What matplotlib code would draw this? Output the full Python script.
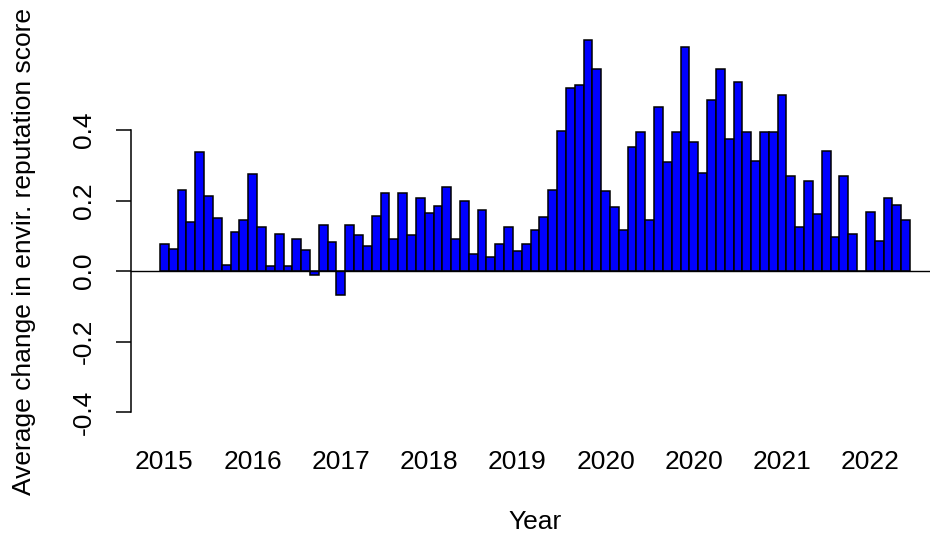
import matplotlib
matplotlib.use("Agg")
import matplotlib.pyplot as plt
import numpy as np

# average change per period, one bar each
cambios = [
    0.076, 0.062, 0.230, 0.140, 0.337, 0.212, 0.149, 0.018, 0.112, 0.144,
    0.274, 0.126, 0.014, 0.105, 0.014, 0.091, 0.059, -0.011, 0.130, 0.082,
    -0.068, 0.130, 0.101, 0.072, 0.155, 0.222, 0.092, 0.222, 0.101, 0.208,
    0.164, 0.184, 0.237, 0.092, 0.198, 0.048, 0.174, 0.039, 0.077, 0.126,
    0.058, 0.077, 0.115, 0.154, 0.230, 0.398, 0.519, 0.528, 0.654, 0.572,
    0.226, 0.183, 0.115, 0.352, 0.394, 0.144, 0.466, 0.308, 0.394, 0.635,
    0.366, 0.279, 0.485, 0.572, 0.374, 0.537, 0.394, 0.311, 0.394, 0.394,
    0.500, 0.270, 0.125, 0.255, 0.163, 0.341, 0.096, 0.270, 0.105, 0.0,
    0.168, 0.086, 0.207, 0.187, 0.144,
]
# one label every 10 bars
etiquetas = ["2015", "2016", "2017", "2018", "2019", "2020", "2020", "2021", "2022"]
ticks_y = [-0.4, -0.2, 0.0, 0.2, 0.4]

plt.rcParams['font.family'] = ['Liberation Sans', 'DejaVu Sans']

fig = plt.figure(figsize=(9.3, 5.39), dpi=100)
W, H = 930.0, 539.0
# plot region in pixels: left 131, right 940, top 17, bottom 423
ax = fig.add_axes([131 / W, (H - 423.3) / H, (940 - 131) / W, (423.3 - 17.2) / H])

x = np.arange(len(cambios))
ax.bar(x, cambios, width=1.0, align='edge', color='#0000ff',
       edgecolor='black', linewidth=1.1, clip_on=False)
ax.axhline(0, color='black', linewidth=1.0)

ax.set_xlim(-(160 - 131) / 8.8235, (940 - 160) / 8.8235)
ax.set_ylim(-0.432, 0.72)

for s in ['top', 'right', 'bottom']:
    ax.spines[s].set_visible(False)
ax.spines['left'].set_bounds(-0.4, 0.4)
ax.spines['left'].set_linewidth(1.1)

ax.set_yticks(ticks_y)
ax.set_yticklabels(["-0.4", "-0.2", "0.0", "0.2", "0.4"], rotation=90, va='center')
ax.tick_params(axis='y', length=11, width=1.1, pad=14, labelsize=19)

ax.set_xticks(np.arange(len(etiquetas)) * 10 + 0.5)
ax.set_xticklabels(etiquetas)
ax.tick_params(axis='x', length=0, pad=19, labelsize=19)

ax.set_xlabel("Year", fontsize=19)
ax.xaxis.set_label_coords(0.5, -0.213)
ax.set_ylabel("Average change in envir. reputation score", fontsize=19)
ax.yaxis.set_label_coords(-0.117, 0.424)

fig.savefig("out.png", dpi=100)
